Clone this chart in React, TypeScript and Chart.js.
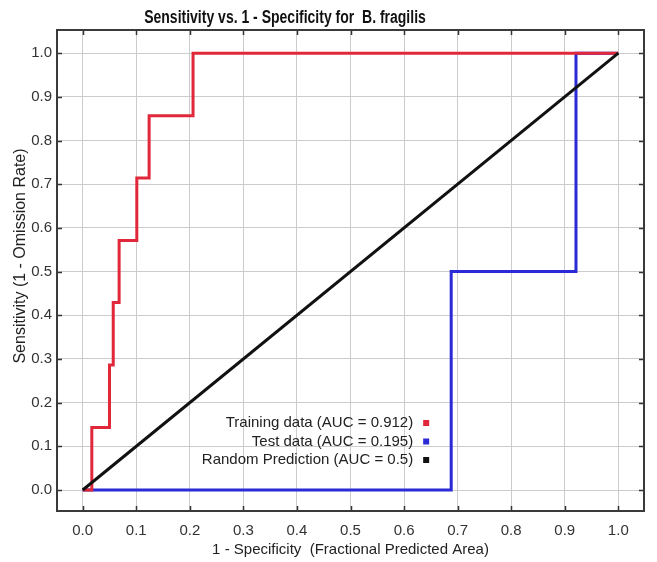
import React, { useEffect, useRef } from 'react';
import { Chart, registerables } from 'chart.js';

Chart.register(...registerables);

const TITLE_BOLD = 'Sensitivity vs. 1 - Specificity for  B. fragilis';
const X_TITLE = '1 - Specificity  (Fractional Predicted Area)';
const Y_TITLE = 'Sensitivity (1 - Omission Rate)';

const TICK_VALUES = [0, 0.1, 0.2, 0.3, 0.4, 0.5, 0.6, 0.7, 0.8, 0.9, 1.0];
const TICK_LABELS = ['0.0', '0.1', '0.2', '0.3', '0.4', '0.5', '0.6', '0.7', '0.8', '0.9', '1.0'];

// ROC corner points (stepped: horizontal first, then vertical)
const TRAIN_X = [0, 0.017, 0.05, 0.057, 0.068, 0.101, 0.124, 0.206, 1.0];
const TRAIN_Y = [0, 0.143, 0.286, 0.429, 0.571, 0.714, 0.857, 1.0, 1.0];

const TEST_X = [0, 0.688, 0.921, 1.0];
const TEST_Y = [0, 0.5, 1.0, 1.0];

const RANDOM_X = [0, 1];
const RANDOM_Y = [0, 1];

const SERIES_LABELS = [
  'Training data (AUC = 0.912)',
  'Test data (AUC = 0.195)',
  'Random Prediction (AUC = 0.5)',
];
const SERIES_COLORS = ['#e0283a', '#2a2ad6', '#111111'];

const FONT = '"Liberation Sans", Arial, Helvetica, sans-serif';

const toPoints = (xs: number[], ys: number[]) => xs.map((x, i) => ({ x, y: ys[i] }));

const decorPlugin = {
  id: 'decor',
  beforeDraw(chart: any) {
    const { ctx } = chart;
    ctx.save();
    ctx.fillStyle = '#ffffff';
    ctx.fillRect(0, 0, chart.width, chart.height);
    ctx.restore();
  },
  afterDraw(chart: any) {
    const { ctx, chartArea } = chart;
    const xs = chart.scales.x;
    const ys = chart.scales.y;
    const { left, right, top, bottom } = chartArea;
    ctx.save();

    // inner tick marks
    ctx.strokeStyle = '#333333';
    ctx.lineWidth = 1.5;
    const tl = 5;
    TICK_VALUES.forEach((v) => {
      const px = Math.round(xs.getPixelForValue(v)) + 0.5;
      ctx.beginPath();
      ctx.moveTo(px, bottom);
      ctx.lineTo(px, bottom - tl);
      ctx.moveTo(px, top);
      ctx.lineTo(px, top + tl);
      ctx.stroke();
      const py = Math.round(ys.getPixelForValue(v)) + 0.5;
      ctx.beginPath();
      ctx.moveTo(left, py);
      ctx.lineTo(left + tl, py);
      ctx.moveTo(right, py);
      ctx.lineTo(right - tl, py);
      ctx.stroke();
    });

    // frame
    ctx.strokeStyle = '#3a3a3a';
    ctx.lineWidth = 2;
    ctx.strokeRect(left, top, right - left, bottom - top);

    // title (slightly tall, condensed look as in the reference)
    ctx.save();
    ctx.fillStyle = '#111111';
    ctx.font = 'bold 14px ' + FONT;
    ctx.textAlign = 'center';
    ctx.textBaseline = 'middle';
    ctx.translate(285, 18);
    ctx.scale(1, 1.25);
    ctx.fillText(TITLE_BOLD, 0, 0);
    ctx.restore();

    // x title
    ctx.textAlign = 'center';
    ctx.textBaseline = 'middle';
    ctx.font = '15px ' + FONT;
    ctx.fillStyle = '#222222';
    ctx.fillText(X_TITLE, (left + right) / 2, 550);

    // y title
    ctx.save();
    ctx.translate(21, 256);
    ctx.rotate(-Math.PI / 2);
    ctx.font = '16px ' + FONT;
    ctx.fillText(Y_TITLE, 0, 0);
    ctx.restore();

    // legend inside plot
    ctx.font = '15px ' + FONT;
    ctx.textAlign = 'right';
    ctx.textBaseline = 'middle';
    const textRight = xs.getPixelForValue(0.617);
    chart.data.datasets.forEach((ds: any, i: number) => {
      const y = bottom - 88 + i * 18.5;
      ctx.fillStyle = '#222222';
      ctx.fillText(ds.label, textRight, y);
      ctx.fillStyle = ds.borderColor;
      ctx.fillRect(textRight + 10, y - 3, 6, 6);
    });

    ctx.restore();
  },
};

export default function App() {
  const ref = useRef<HTMLCanvasElement | null>(null);

  useEffect(() => {
    if (!ref.current) return;
    const chart = new Chart(ref.current, {
      type: 'line',
      data: {
        datasets: [
          {
            label: SERIES_LABELS[0],
            data: toPoints(TRAIN_X, TRAIN_Y),
            borderColor: SERIES_COLORS[0],
            backgroundColor: SERIES_COLORS[0],
            borderWidth: 3,
            pointRadius: 0,
            stepped: 'before',
            fill: false,
            order: 1,
          },
          {
            label: SERIES_LABELS[1],
            data: toPoints(TEST_X, TEST_Y),
            borderColor: SERIES_COLORS[1],
            backgroundColor: SERIES_COLORS[1],
            borderWidth: 3,
            pointRadius: 0,
            stepped: 'before',
            fill: false,
            order: 2,
          },
          {
            label: SERIES_LABELS[2],
            data: toPoints(RANDOM_X, RANDOM_Y),
            borderColor: SERIES_COLORS[2],
            backgroundColor: SERIES_COLORS[2],
            borderWidth: 3,
            pointRadius: 0,
            fill: false,
            order: 0,
          },
        ],
      },
      options: {
        animation: false,
        responsive: false,
        layout: { padding: { top: 30, right: 13, left: 0, bottom: 0 } },
        plugins: {
          legend: { display: false },
          title: { display: false },
          tooltip: { enabled: false },
        },
        scales: {
          x: {
            type: 'linear',
            min: -0.048,
            max: 1.048,
            afterBuildTicks: (scale: any) => {
              scale.ticks = TICK_VALUES.map((v) => ({ value: v }));
            },
            afterFit: (scale: any) => {
              scale.height = 51;
            },
            ticks: {
              callback: (v: any) => TICK_LABELS[TICK_VALUES.indexOf(Math.round(Number(v) * 10) / 10)],
              font: { family: FONT, size: 15 },
              color: '#333333',
              padding: 11,
              maxRotation: 0,
              autoSkip: false,
            },
            grid: { color: '#cccccc', lineWidth: 1, drawTicks: false },
            border: { display: false },
          },
          y: {
            type: 'linear',
            min: -0.048,
            max: 1.053,
            afterBuildTicks: (scale: any) => {
              scale.ticks = TICK_VALUES.map((v) => ({ value: v }));
            },
            afterFit: (scale: any) => {
              scale.width = 57;
            },
            ticks: {
              callback: (v: any) => TICK_LABELS[TICK_VALUES.indexOf(Math.round(Number(v) * 10) / 10)],
              font: { family: FONT, size: 15 },
              color: '#333333',
              padding: 5,
              autoSkip: false,
            },
            grid: { color: '#cccccc', lineWidth: 1, drawTicks: false },
            border: { display: false },
          },
        },
      },
      plugins: [decorPlugin],
    });
    return () => chart.destroy();
  }, []);

  return (
    <div style={{ position: 'absolute', left: 0, top: 0, width: 657, height: 562, background: '#fff' }}>
      <canvas ref={ref} width={657} height={562} style={{ display: 'block', width: 657, height: 562 }} />
    </div>
  );
}
